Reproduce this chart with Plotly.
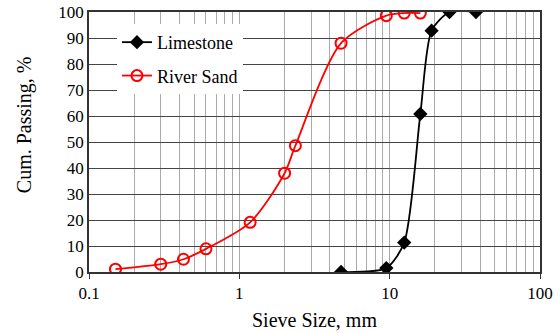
import plotly.graph_objects as go

# Data
lime_size = [4.75, 9.5, 12.5, 16, 19, 25, 37.5]
lime_pass = [0, 1.5, 11.3, 60.8, 92.8, 100, 100]
sand_size = [0.15, 0.3, 0.425, 0.6, 1.18, 2.0, 2.36, 4.75, 9.5, 12.5, 16]
sand_pass = [1.1, 3.0, 4.9, 8.9, 19.1, 38.0, 48.6, 88.0, 98.6, 99.6, 99.6]
x_ticks = [0.1, 1, 10, 100]
x_tick_labels = ["0.1", "1", "10", "100"]
minor_vals = [m * 10 ** e for e in (-1, 0, 1) for m in range(2, 10)]
x_title = "Sieve Size, mm"
y_title = "Cum. Passing, %"

FONT = "Liberation Serif"

fig = go.Figure()
fig.add_trace(go.Scatter(
    x=lime_size, y=lime_pass, name="Limestone", mode="lines+markers",
    line=dict(color="black", width=1.8, shape="spline", smoothing=0.7),
    marker=dict(symbol="diamond", size=11, color="black"),
    legendgroup="a",
))
fig.add_trace(go.Scatter(
    x=sand_size, y=sand_pass, name="River Sand", mode="lines+markers",
    line=dict(color="#ff0000", width=1.8, shape="spline", smoothing=0.8),
    marker=dict(symbol="circle-open", size=11, color="#ff0000", line=dict(width=2, color="#ff0000")),
    legendgroup="b",
))

fig.update_layout(
    template="none",
    width=560, height=333,
    margin=dict(l=89, r=20, t=12, b=61),
    paper_bgcolor="white", plot_bgcolor="white",
    font=dict(family=FONT, size=17, color="black"),
    showlegend=True,
    legend=dict(
        x=0.062, y=0.954, xanchor="left", yanchor="top",
        bgcolor="white", borderwidth=0,
        font=dict(family=FONT, size=18, color="black"),
        traceorder="grouped", tracegroupgap=7,
    ),
    xaxis=dict(
        type="log", range=[-1, 2], automargin=False,
        tickmode="array", tickvals=x_ticks, ticktext=x_tick_labels,
        ticks="outside", ticklen=5, tickcolor="#333",
        showgrid=True, gridcolor="#aaaaaa", gridwidth=1,
        minor=dict(tickmode="array", tickvals=minor_vals, showgrid=True,
                   gridcolor="#aaaaaa", gridwidth=1, ticks=""),
        showline=True, linecolor="#333", linewidth=1.5, mirror=True,
        zeroline=False,
        title=dict(text=x_title, font=dict(family=FONT, size=20), standoff=11),
        tickfont=dict(family=FONT, size=17),
    ),
    yaxis=dict(
        range=[0, 100], tickvals=list(range(0, 101, 10)), automargin=False,
        ticks="", showgrid=True, gridcolor="#444444", gridwidth=1,
        showline=True, linecolor="#333", linewidth=1.5, mirror=True,
        zeroline=False,
        tickfont=dict(family=FONT, size=17),
    ),
    annotations=[dict(
        text=y_title, textangle=-90, xref="paper", yref="paper",
        x=-0.144, y=0.565, xanchor="center", yanchor="middle",
        showarrow=False, font=dict(family=FONT, size=20, color="black"),
    )],
)

fig.write_html("out.html", config={"displayModeBar": False},
               post_script="document.body.style.margin='0';")
